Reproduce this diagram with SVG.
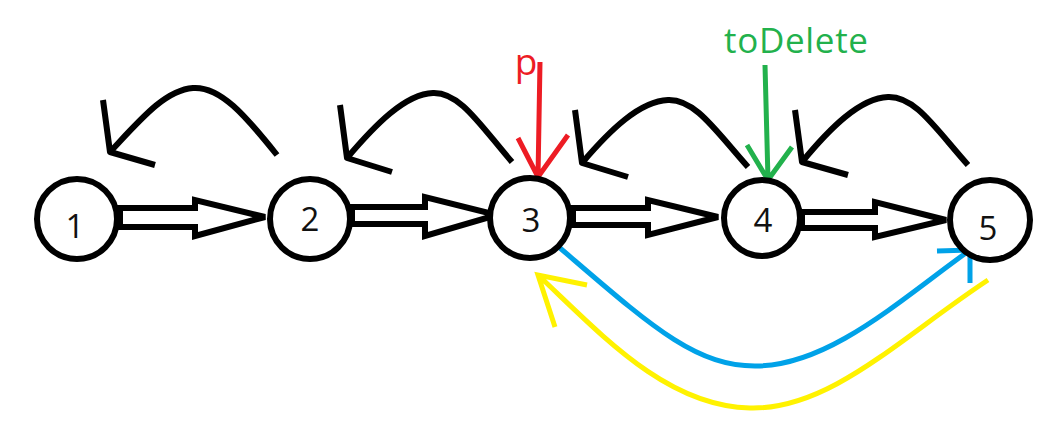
<svg xmlns="http://www.w3.org/2000/svg" width="1060" height="422" viewBox="0 0 1060 422">
<style>
.node{fill:#fff;stroke:#000;stroke-width:6}
.lbl{font-family:"Open Sans","Noto Sans",sans-serif;font-size:33px;fill:#111;text-anchor:middle}
.fat{fill:#fff;stroke:#000;stroke-width:6;stroke-linejoin:miter}
.back{fill:none;stroke:#000;stroke-width:6;stroke-linecap:butt;stroke-linejoin:round}
.red{fill:none;stroke:#ED1C24;stroke-width:5}
.green{fill:none;stroke:#22B14C;stroke-width:5}
.blue{fill:none;stroke:#00A2E8;stroke-width:5}
.yellow{fill:none;stroke:#FFF200;stroke-width:5}
</style>
<rect width="1060" height="422" fill="#fff"/>
<g id="connectors">
<path class="fat" d="M120,208 H195 V200 L265,217 L195,236 V227 H120 Z"/>
<path class="fat" d="M352,207 H425 V197 L497,215 L425,236 V224 H352 Z"/>
<path class="fat" d="M573,208 H648 V200 L718,217 L648,235 V225 H573 Z"/>
<path class="fat" d="M802,212 H875 V202 L946,220 L875,237 V228 H802 Z"/>
<path class="back" d="M277,155 C245,115 220,86 193,88 C165,90 140,120 110,152 M103,100 L110,152 L155,165"/>
<path class="back" d="M512,162 C480,125 460,92 433,93 C405,94 375,125 347,158 M340,105 L347,158 L392,172"/>
<path class="back" d="M748,167 C715,130 695,99 668,100 C640,101 610,130 582,163 M575,110 L582,163 L628,177"/>
<path class="back" d="M968,165 C935,128 915,96 888,97 C860,98 830,128 802,162 M795,110 L802,162 L848,175"/>
<path class="red" d="M540,62 L538,177 M518,138 L538,177 L568,135"/>
<path class="green" d="M765,65 L768,180 M747,145 L768,180 L792,147"/>
<path class="blue" d="M560,248 C650,325 695,367 757,366 C830,365 900,300 970,250 M937,251 L970,250 L970,283"/>
<path class="yellow" d="M988,280 C900,338 830,410 750,408 C665,406 600,333 538,275 M587,285 L538,275 L555,327"/>
</g>
<g id="node1"><circle class="node" cx="77" cy="219" r="40"/><text class="lbl" x="75" y="238">1</text></g>
<g id="node2"><circle class="node" cx="310" cy="219" r="40"/><text class="lbl" x="310" y="231">2</text></g>
<g id="node3"><circle class="node" cx="530" cy="218" r="40"/><text class="lbl" x="531" y="232">3</text></g>
<g id="node4"><circle class="node" cx="762" cy="218" r="38"/><text class="lbl" x="763" y="232">4</text></g>
<g id="node5"><circle class="node" cx="990" cy="220" r="40"/><text class="lbl" x="988" y="240">5</text></g>
<g id="label-p"><text x="526" y="75" style="font-family:'Open Sans','Noto Sans',sans-serif;font-size:37px;fill:#ED1C24;text-anchor:middle">p</text></g>
<g id="label-toDelete"><text x="724" y="53" textLength="144" style="font-family:'Open Sans','Noto Sans',sans-serif;font-size:35px;fill:#22B14C">toDelete</text></g>
</svg>
